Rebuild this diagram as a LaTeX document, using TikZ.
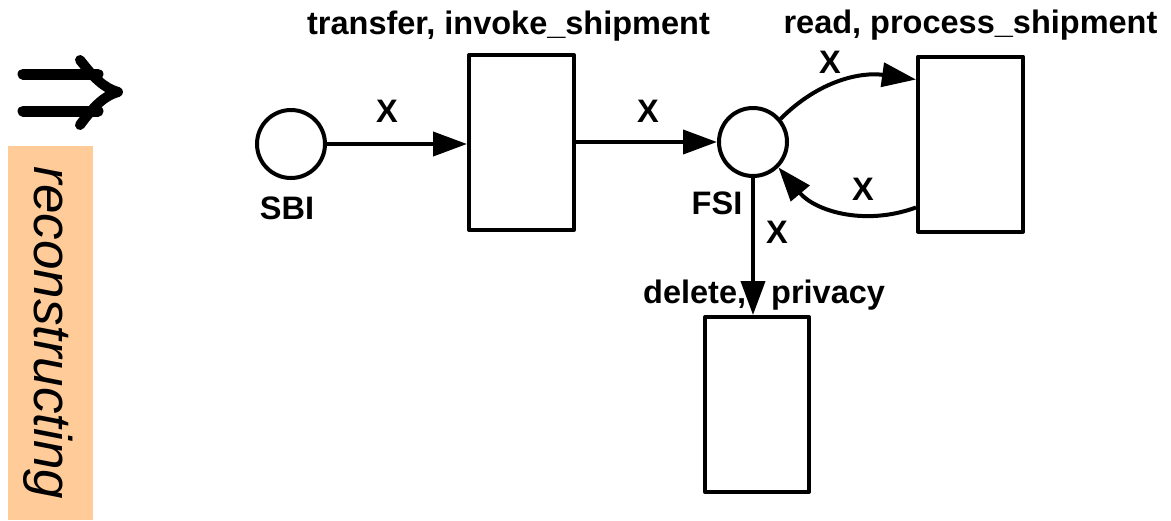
\documentclass[tikz,border=0pt]{standalone}
\usepackage{fontspec}
\setmainfont{Liberation Sans}
\usetikzlibrary{arrows.meta}
\definecolor{boxorange}{HTML}{FFCC99}
\tikzset{
  place/.style={circle, draw, line width=4pt, minimum size=68pt, inner sep=0pt},
  trans/.style={rectangle, draw, line width=4pt, line join=round, minimum width=105pt, minimum height=175pt, inner sep=0pt},
  lbl/.style={inner sep=0pt, font=\bfseries\fontsize{32.5}{38}\selectfont},
  arc/.style={line width=4pt, -{Triangle[length=34pt,width=24pt]}},
  implstroke/.style={line width=11pt, line cap=round, line join=round},
}
\begin{document}
\begin{tikzpicture}[x=1pt,y=-1pt]
\useasboundingbox (0,0) rectangle (1171,520);
% left part
\fill[boxorange] (8,146) rectangle (93,520);
\node[inner sep=0pt, rotate=-90, font=\itshape\fontsize{53}{58}\selectfont] (rec) at (48,333) {reconstructing};
% implication arrow
\draw[implstroke] (23,74) -- (98,74);
\draw[implstroke] (23,111) -- (98,111);
\draw[implstroke, line width=10pt] (80,60) .. controls (94,78) and (104,88) .. (118,92)
                                   .. controls (104,96) and (94,106) .. (80,125);
% places and transitions
\node[place] (SBI) at (291,144) {};
\node[place] (FSI) at (753,142) {};
\node[trans] (T1) at (521.5,142.5) {};
\node[trans] (T2) at (970.5,144) {};
\node[trans, minimum width=104pt] (T3) at (757,404.5) {};
% labels
\node[lbl, anchor=base] (l1) at (508.5,34) {transfer, invoke\_shipment};
\node[lbl, anchor=base] (l2) at (970.5,33) {read, process\_shipment};
\node[lbl, anchor=base west] (l3) at (643,303) {delete,\hspace{25pt}privacy};
\node[lbl] (sbil) at (287,208.5) {SBI};
\node[lbl] (fsil) at (717,203) {FSI};
% arcs
\draw[arc] (SBI) -- (T1.west |- SBI);
\draw[arc] (T1.east |- FSI) -- (FSI);
\coordinate (t2in) at ([yshift=-25pt]T2.north west);
\coordinate (t2out) at ([yshift=26pt]T2.south west);
\draw[arc] (FSI.40) to[out=45, in=172] (t2in);
\draw[arc] (t2out) to[out=200, in=-50] (FSI.-45);
\draw[arc] (FSI.south) -- (FSI.south |- T3.north);
% arc labels
\node[lbl] (x1) at (387,111) {X};
\node[lbl] (x2) at (648,111) {X};
\node[lbl] (x3) at (830,62) {X};
\node[lbl] (x4) at (863,189) {X};
\node[lbl] (x5) at (777,232) {X};
\end{tikzpicture}
\end{document}
